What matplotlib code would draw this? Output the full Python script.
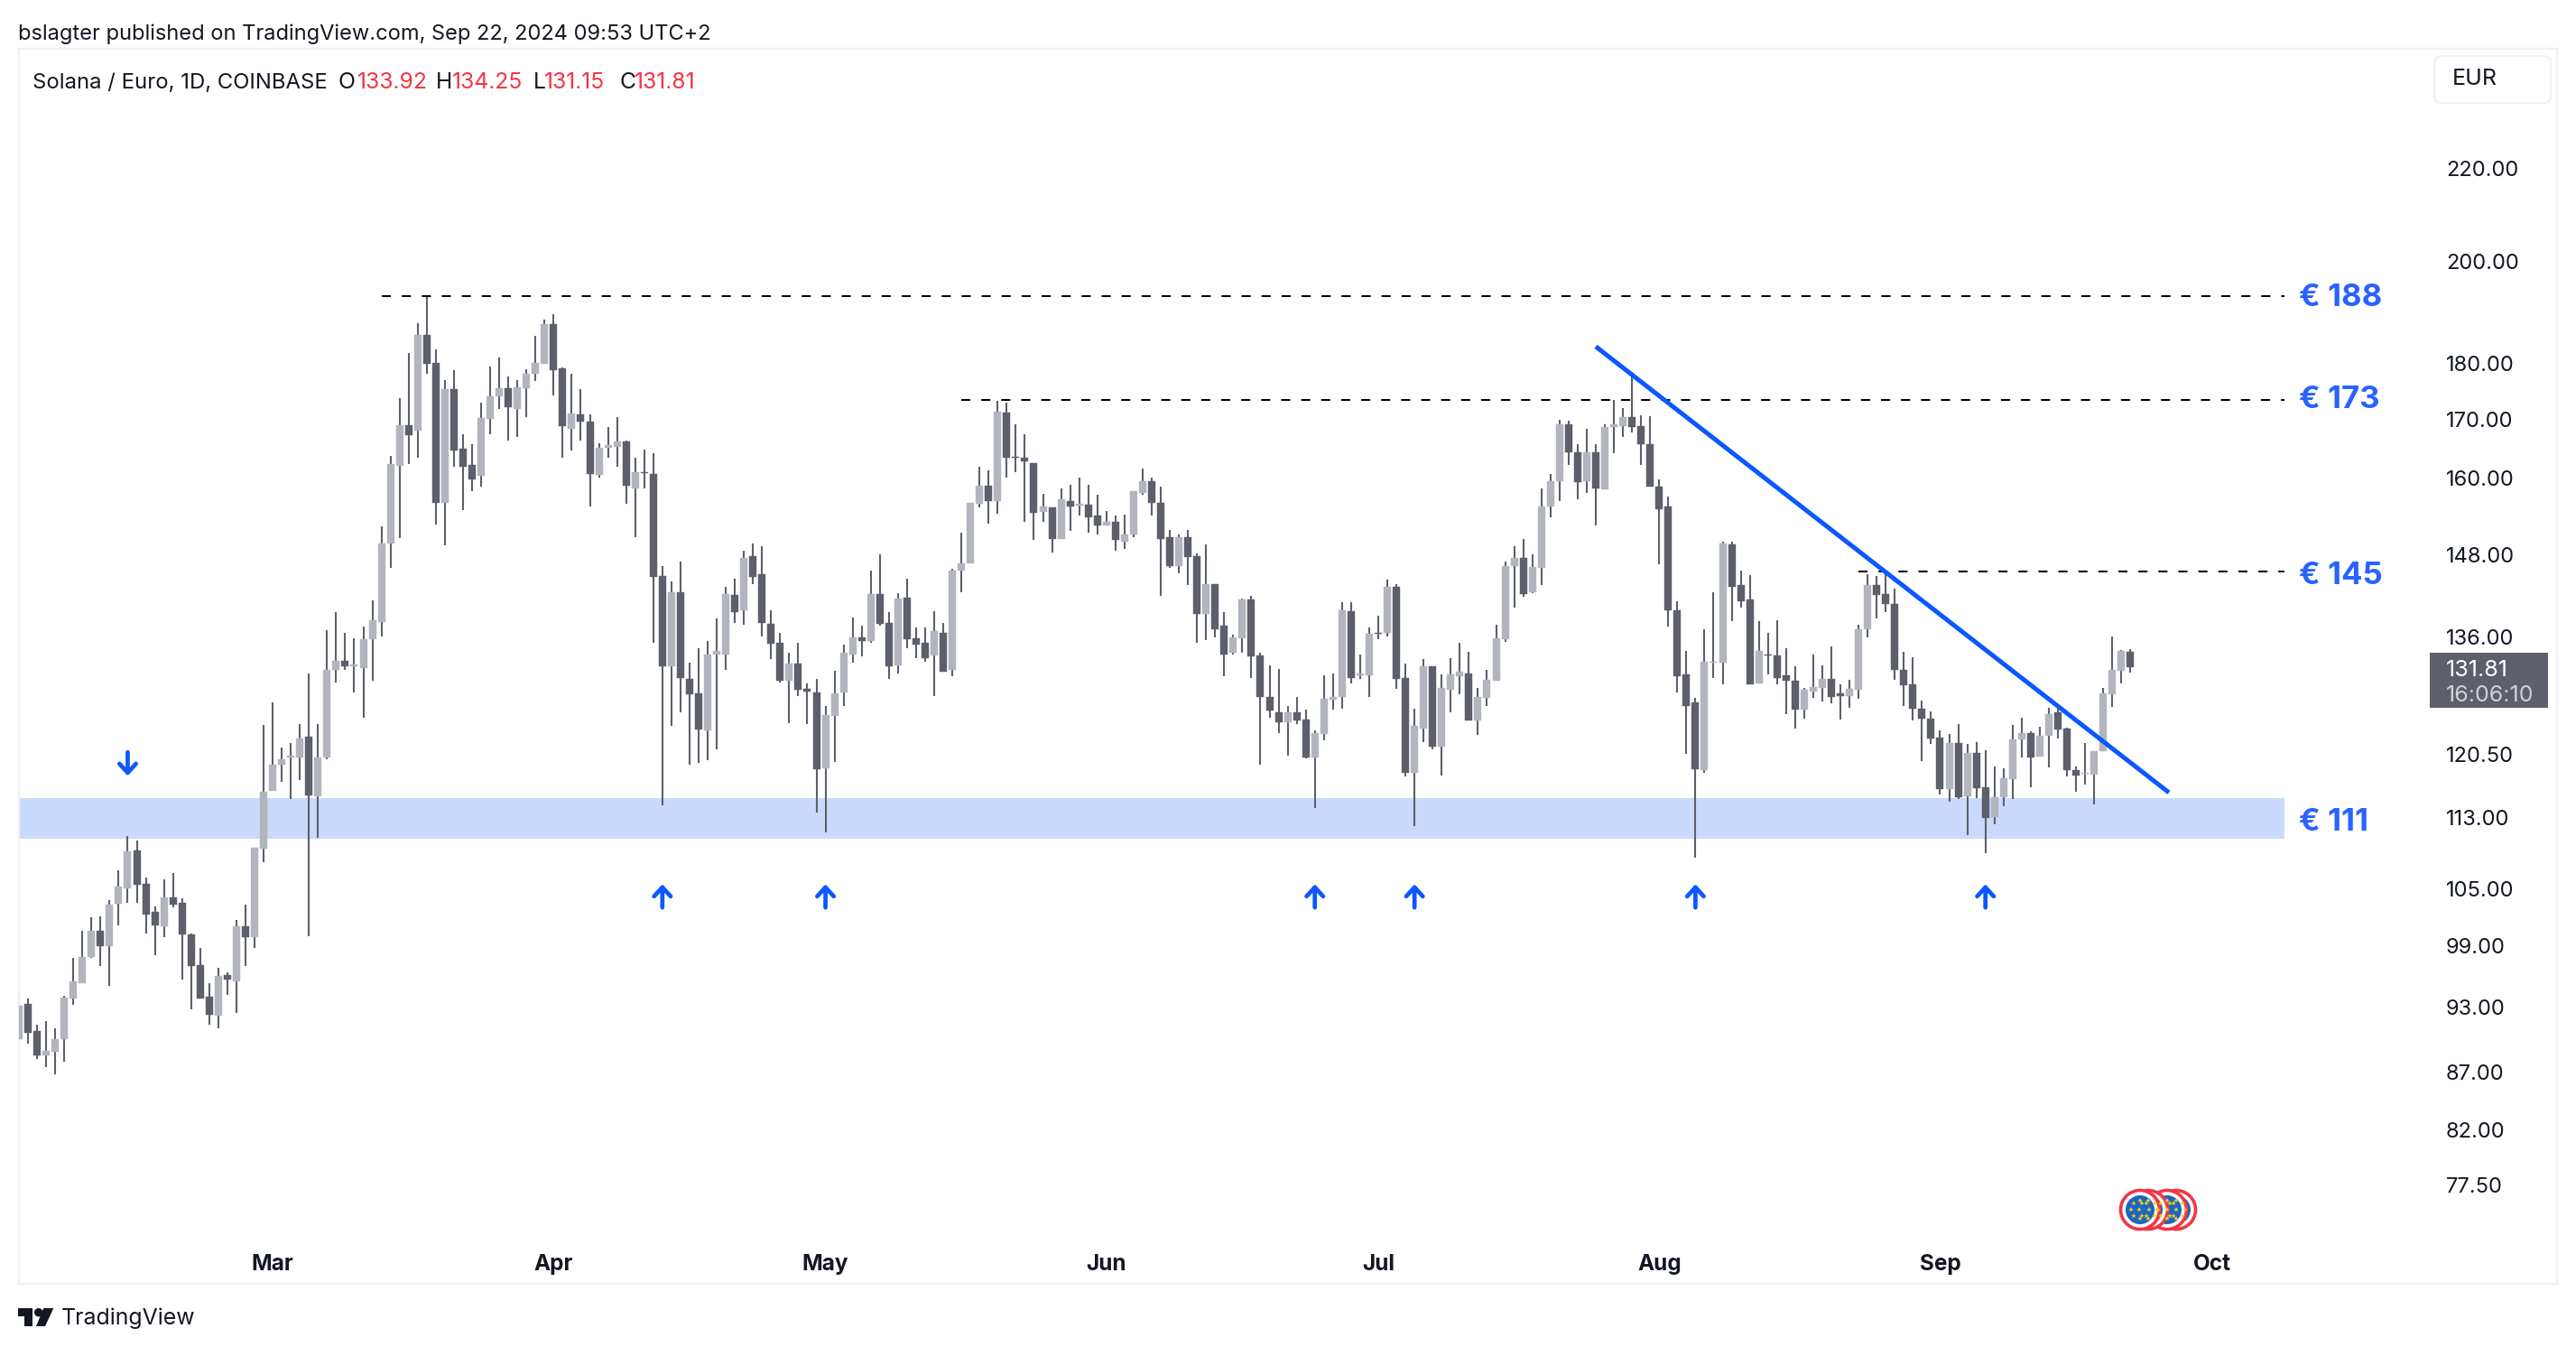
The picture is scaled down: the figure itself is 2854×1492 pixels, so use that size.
import pandas as pd
import numpy as np
import matplotlib
matplotlib.use("Agg")
import matplotlib.pyplot as plt
import matplotlib.dates as mdates
from matplotlib.lines import Line2D
from matplotlib.patches import Circle, FancyBboxPatch, Polygon, Rectangle
from matplotlib.transforms import IdentityTransform

plt.rcParams["font.family"] = ["Inter", "DejaVu Sans"]

W, H = 2854, 1492

days = pd.date_range("2024-02-02", periods=234)

opens = [
    90.0, 93.3, 90.7, 88.5, 88.8, 90.0, 93.8, 95.3, 97.9, 100.6,
    99.0, 103.4, 105.0, 109.2, 105.5, 102.5, 101.0, 104.1, 103.5, 100.2,
    97.1, 94.0, 92.2, 96.1, 95.5, 101.0, 99.9, 109.4, 116.1, 119.3,
    120.1, 120.1, 122.7, 115.5, 120.1, 131.5, 132.7, 132.0, 131.7, 135.7,
    138.1, 149.6, 162.1, 169.0, 168.0, 185.4, 180.1, 156.1, 175.4, 164.9,
    162.2, 160.5, 170.1, 174.1, 175.6, 171.9, 175.6, 178.1, 180.0, 187.5,
    179.2, 168.4, 170.8, 169.6, 160.6, 165.1, 165.2, 166.2, 158.4, 161.0,
    160.8, 144.7, 132.0, 142.3, 130.3, 128.3, 123.5, 133.5, 133.6, 141.9,
    139.7, 147.7, 145.0, 137.8, 135.1, 130.0, 132.3, 128.9, 128.5, 118.8,
    125.4, 128.4, 133.5, 135.9, 135.4, 142.1, 138.0, 132.1, 141.6, 135.8,
    135.1, 133.4, 136.6, 131.4, 145.5, 146.6, 155.9, 158.8, 156.4, 171.2,
    163.6, 163.4, 162.6, 154.6, 155.3, 150.4, 156.4, 155.6, 155.7, 154.0,
    152.4, 153.1, 150.0, 151.0, 157.7, 159.5, 156.1, 150.6, 146.3, 150.6,
    147.7, 139.2, 143.5, 137.5, 133.8, 135.8, 141.3, 133.4, 127.9, 125.9,
    124.6, 125.9, 124.9, 120.2, 123.1, 127.5, 127.9, 139.6, 130.7, 130.7,
    136.6, 136.5, 143.2, 130.4, 118.3, 123.8, 131.9, 121.5, 128.8, 130.6,
    131.0, 124.8, 127.7, 130.0, 135.7, 146.3, 147.4, 142.4, 145.9, 155.4,
    159.5, 169.2, 164.4, 159.5, 164.4, 158.2, 168.6, 168.9, 170.4, 168.8,
    165.7, 158.6, 155.4, 139.8, 130.8, 127.1, 118.6, 132.4, 132.4, 149.5,
    143.4, 141.3, 129.6, 133.6, 133.4, 130.7, 130.0, 126.2, 128.6, 129.1,
    130.2, 128.3, 128.0, 128.8, 137.0, 143.4, 142.1, 140.7, 131.4, 129.5,
    126.3, 125.0, 122.6, 116.3, 122.0, 115.5, 120.7, 116.5, 113.0, 115.4,
    117.5, 122.4, 123.2, 120.3, 122.8, 125.8, 123.8, 118.6, 118.2, 118.1,
    120.9, 128.2, 131.3, 133.92,
]
highs = [
    94.5, 93.8, 91.3, 91.7, 91.0, 94.1, 97.8, 100.6, 102.0, 102.1,
    103.8, 107.0, 110.8, 110.3, 106.2, 103.1, 106.0, 106.7, 104.0, 100.3,
    98.8, 95.3, 96.8, 96.4, 101.7, 103.3, 109.5, 124.2, 127.2, 121.4,
    121.9, 124.4, 131.0, 124.3, 136.9, 139.5, 136.6, 135.8, 137.4, 141.2,
    152.3, 163.7, 173.7, 182.0, 187.7, 193.1, 182.6, 177.0, 178.8, 167.5,
    165.7, 172.9, 179.4, 181.1, 177.6, 177.0, 179.0, 185.3, 188.4, 189.3,
    179.3, 178.2, 175.4, 170.8, 165.9, 168.6, 170.4, 166.3, 163.4, 164.8,
    164.2, 146.2, 143.9, 146.9, 132.4, 134.4, 135.4, 138.6, 143.2, 144.3,
    148.6, 149.6, 149.3, 139.7, 136.5, 133.8, 135.2, 129.7, 130.3, 126.7,
    131.3, 134.9, 138.7, 137.5, 145.6, 148.0, 139.5, 142.2, 144.4, 137.3,
    137.3, 139.6, 138.0, 145.8, 151.4, 156.0, 162.0, 161.4, 173.2, 173.0,
    169.1, 167.4, 162.6, 157.5, 155.3, 158.4, 159.0, 160.1, 159.0, 157.3,
    154.8, 154.0, 154.1, 157.9, 161.7, 160.1, 158.6, 151.8, 151.1, 151.8,
    148.2, 149.5, 143.5, 139.5, 136.3, 141.4, 141.8, 133.8, 132.1, 131.6,
    126.7, 127.8, 126.2, 123.5, 130.7, 131.0, 140.9, 140.9, 133.6, 137.3,
    139.0, 144.2, 143.5, 132.3, 126.3, 132.9, 131.9, 130.9, 133.0, 135.1,
    133.9, 129.0, 131.5, 137.7, 146.9, 149.3, 150.3, 148.0, 158.4, 160.8,
    169.9, 169.7, 165.8, 168.3, 165.7, 169.1, 173.4, 172.0, 178.5, 170.7,
    170.5, 159.8, 157.0, 141.1, 134.0, 127.7, 137.1, 142.4, 150.0, 149.9,
    145.5, 144.9, 138.2, 136.6, 138.3, 134.4, 132.0, 129.0, 133.5, 132.1,
    134.6, 129.5, 130.1, 137.7, 145.0, 144.7, 145.2, 142.9, 133.9, 133.2,
    127.4, 126.0, 123.5, 123.1, 124.4, 121.8, 122.1, 121.0, 119.0, 118.8,
    124.2, 125.2, 123.4, 124.0, 126.4, 126.3, 123.9, 119.0, 121.9, 120.9,
    129.1, 136.0, 134.2, 134.25,
]
lows = [
    89.7, 89.6, 88.2, 87.4, 86.8, 87.9, 93.2, 95.3, 97.8, 97.0,
    95.0, 101.1, 103.5, 103.5, 100.3, 98.1, 99.9, 103.0, 95.7, 92.8,
    93.8, 91.3, 91.0, 94.2, 92.4, 97.0, 98.8, 107.9, 116.1, 117.2,
    115.1, 117.4, 100.0, 110.6, 119.9, 129.8, 131.5, 128.5, 125.1, 130.0,
    136.0, 146.0, 150.5, 162.4, 163.5, 178.1, 152.6, 149.4, 162.0, 154.9,
    157.9, 158.6, 167.5, 171.9, 166.3, 166.9, 170.4, 176.8, 180.0, 174.2,
    163.5, 164.7, 166.3, 155.5, 160.2, 163.4, 162.0, 155.9, 150.7, 158.4,
    135.1, 114.4, 124.1, 125.9, 119.3, 119.5, 119.8, 121.2, 131.4, 137.9,
    137.7, 143.5, 136.0, 132.9, 129.8, 124.5, 128.0, 124.4, 113.5, 111.3,
    119.6, 126.7, 132.4, 133.3, 135.1, 137.6, 130.3, 131.0, 134.4, 133.1,
    132.5, 128.0, 131.2, 130.6, 142.4, 146.6, 155.3, 152.8, 154.3, 160.1,
    161.0, 153.0, 150.2, 153.1, 148.3, 150.4, 151.6, 154.0, 151.4, 151.0,
    152.4, 148.6, 148.9, 150.7, 157.3, 154.0, 141.8, 145.9, 145.1, 143.4,
    135.2, 135.5, 135.9, 130.6, 133.6, 133.8, 130.4, 119.3, 125.2, 123.2,
    120.4, 124.3, 120.0, 114.1, 122.3, 126.2, 126.3, 129.7, 130.3, 127.9,
    135.7, 136.0, 128.9, 117.8, 112.0, 122.1, 121.2, 118.0, 125.9, 128.2,
    124.8, 123.0, 126.7, 130.0, 135.3, 140.1, 141.7, 142.2, 143.4, 153.8,
    156.3, 162.3, 156.6, 157.6, 152.5, 158.2, 164.2, 166.9, 167.8, 162.2,
    158.6, 146.5, 137.4, 128.4, 120.6, 108.4, 118.3, 130.4, 129.5, 138.2,
    140.1, 129.5, 129.6, 130.8, 129.5, 125.6, 123.8, 125.0, 127.7, 127.3,
    127.0, 124.9, 126.4, 127.6, 135.9, 138.6, 139.5, 130.1, 126.7, 124.8,
    119.7, 121.8, 115.7, 114.8, 115.1, 111.0, 115.2, 108.9, 112.2, 114.3,
    115.1, 120.1, 116.5, 120.3, 118.9, 122.5, 117.8, 116.0, 116.9, 114.5,
    120.9, 126.6, 129.7, 131.15,
]
closes = [
    93.1, 90.6, 88.5, 88.9, 90.0, 93.9, 95.5, 97.9, 100.6, 99.0,
    103.3, 105.2, 109.1, 105.4, 102.3, 101.1, 104.1, 103.3, 100.2, 97.0,
    93.8, 92.3, 96.0, 95.7, 101.0, 99.9, 109.5, 116.0, 119.3, 119.9,
    120.4, 122.5, 115.6, 120.1, 131.4, 132.7, 132.0, 132.2, 135.7, 138.3,
    149.7, 162.4, 169.0, 167.3, 185.4, 179.9, 156.1, 175.4, 164.7, 162.0,
    159.8, 170.2, 174.1, 175.6, 172.1, 175.7, 178.1, 180.2, 187.5, 178.8,
    168.8, 171.1, 169.6, 160.8, 165.1, 165.5, 166.2, 158.8, 161.0, 160.9,
    144.6, 132.0, 142.4, 130.4, 128.2, 123.6, 133.6, 134.0, 142.1, 139.5,
    147.4, 144.6, 138.0, 135.0, 130.0, 132.3, 128.8, 128.6, 118.7, 125.5,
    128.3, 133.8, 135.9, 135.4, 142.1, 137.8, 132.0, 141.5, 135.7, 134.9,
    133.1, 136.8, 131.2, 145.6, 146.6, 156.0, 158.8, 156.4, 171.3, 163.4,
    163.4, 162.8, 154.4, 155.4, 150.4, 156.6, 155.4, 155.9, 153.8, 152.4,
    153.1, 150.2, 151.1, 157.9, 159.5, 156.1, 150.4, 146.3, 150.6, 147.6,
    139.2, 143.6, 137.1, 133.6, 135.9, 141.3, 133.3, 127.8, 126.1, 124.6,
    125.9, 124.8, 120.2, 123.2, 127.6, 127.9, 139.7, 130.4, 131.0, 136.4,
    136.4, 143.1, 130.3, 118.3, 124.1, 131.9, 121.5, 129.0, 130.8, 131.2,
    124.8, 127.9, 130.1, 135.8, 146.3, 147.4, 142.1, 146.1, 155.4, 159.5,
    169.2, 164.3, 159.4, 164.3, 158.3, 168.6, 169.1, 170.4, 168.6, 165.7,
    158.6, 155.0, 139.8, 130.6, 126.7, 118.7, 132.5, 132.6, 149.6, 143.2,
    141.1, 129.5, 134.0, 133.4, 130.4, 130.0, 126.2, 128.8, 129.2, 130.2,
    127.8, 128.0, 128.9, 137.1, 143.4, 141.9, 140.6, 131.5, 129.4, 126.3,
    125.0, 122.5, 116.3, 121.9, 115.4, 120.7, 116.4, 112.9, 115.4, 117.6,
    122.4, 123.2, 120.2, 122.8, 125.6, 123.7, 118.6, 118.0, 118.3, 120.9,
    128.3, 131.4, 134.0, 131.81,
]

price_ticks = [220, 200, 180, 170, 160, 148, 136, 120.5, 113, 105, 99, 93, 87, 82, 77.5]
month_ticks = ["2024-03-01", "2024-04-01", "2024-05-01", "2024-06-01",
               "2024-07-01", "2024-08-01", "2024-09-01", "2024-10-01"]
month_labels = ["Mar", "Apr", "May", "Jun", "Jul", "Aug", "Sep", "Oct"]

support_low, support_high = 110.5, 115.2
level_prices = [193.0, 173.4, 145.4]
level_starts = ["2024-03-13", "2024-05-16", "2024-08-23"]
level_texts = ["€ 188", "€ 173", "€ 145", "€ 111"]
level_text_prices = [192.6, 173.4, 144.7, 112.4]
drawings_end = "2024-10-09"
trend_dates = ["2024-07-25", "2024-09-26 06:00"]
trend_prices = [183.2, 115.9]
up_arrow_dates = ["2024-04-13", "2024-05-01", "2024-06-24", "2024-07-05", "2024-08-05", "2024-09-06"]
down_arrow_date = "2024-02-14"

UP = "#b2b5be"
DOWN = "#5d606b"
BLUE = "#0c57ff"
LABEL_BLUE = "#2962ff"
FRAME = "#f0f0f5"
INK = "#131722"
RED = "#f23645"

fig = plt.figure(figsize=(W / 100, H / 100), dpi=100, facecolor="white")
ax = fig.add_axes([21 / W, (H - 1422) / H, 2812 / W, 1368 / H])
ax.set_yscale("log")
ax.set_ylim(70.0, 248.7)
first = mdates.date2num(days[0])
ax.set_xlim(first, first + 280.08)

o = np.array(opens)
c = np.array(closes)
colors = np.where(c >= o, UP, DOWN)
x = mdates.date2num(days)

ax.axhspan(support_low, support_high, xmin=0,
           xmax=(mdates.datestr2num(drawings_end) - first) / 280.08,
           color="#cadafd", lw=0, zorder=1)

# wicks then bodies
ax.vlines(x, lows, highs, colors=DOWN, lw=1.5, zorder=2)
ax.bar(x, np.abs(c - o), bottom=np.minimum(o, c), width=0.8, color=colors,
       edgecolor=colors, lw=0.3, zorder=3)

for price, start in zip(level_prices, level_starts):
    ax.plot([mdates.datestr2num(start), mdates.datestr2num(drawings_end)], [price, price],
            color="black", lw=1.45, dashes=(5, 6), zorder=4)

ax.plot(mdates.datestr2num(trend_dates), trend_prices, color=BLUE, lw=3.6,
        solid_capstyle="butt", zorder=5)

label_x = first + 251.6
for txt, price in zip(level_texts, level_text_prices):
    ax.text(label_x, price, txt, color=LABEL_BLUE, fontsize=25, fontweight="bold",
            va="center", ha="left", zorder=6)

arrow_style = dict(arrowstyle="->,head_length=0.72,head_width=0.66", color=BLUE, lw=3.4,
                   shrinkA=0, shrinkB=0)
for d in up_arrow_dates:
    dn = mdates.datestr2num(d)
    ax.annotate("", xy=(dn, 105.5), xytext=(dn, 103.0), arrowprops=arrow_style, zorder=6)
dn = mdates.datestr2num(down_arrow_date)
ax.annotate("", xy=(dn, 117.9), xytext=(dn, 120.8), arrowprops=arrow_style, zorder=6)

# last price tag
ax.add_patch(Rectangle((first + 266.0, 126.4), 13.1, 133.8 - 126.4, color=DOWN, lw=0, zorder=7))
ax.text(first + 267.8, 131.4, "131.81", color="white", fontsize=18, va="center", ha="left", zorder=8)
ax.text(first + 267.8, 128.05, "16:06:10", color="#d0d1d6", fontsize=18, va="center", ha="left", zorder=8)

ax.yaxis.tick_right()
ax.set_yticks(price_ticks)
ax.set_yticklabels([f"{p:.2f}" for p in price_ticks], color=INK, fontsize=17)
ax.minorticks_off()
ax.tick_params(axis="y", which="both", length=0, pad=-88.5)
ax.set_xticks(mdates.datestr2num(month_ticks))
ax.set_xticklabels(month_labels, color=INK, fontsize=17.5, fontweight="bold")
ax.tick_params(axis="x", length=0, pad=-24)
for s in ax.spines.values():
    s.set_color(FRAME)
    s.set_linewidth(1.6)


def px_text(px, py, s, **kw):
    fig.text(px / W, 1 - py / H, s, va="center", ha="left", **kw)


px_text(20, 38, "bslagter published on TradingView.com, Sep 22, 2024 09:53 UTC+2", color=INK, fontsize=17)
px_text(36, 92, "Solana / Euro, 1D, COINBASE", color=INK, fontsize=17.2)
for px, s, col in [(375, "O", INK), (396, "133.92", RED), (483, "H", INK), (501, "134.25", RED),
                   (591, "L", INK), (603, "131.15", RED), (687, "C", INK), (703, "131.81", RED)]:
    px_text(px, 92, s, color=col, fontsize=17.8)

# currency box
fig.add_artist(FancyBboxPatch((2697, H - 114), 129, 52, boxstyle="round,pad=0,rounding_size=8",
                              fc="white", ec=FRAME, lw=1.5, transform=IdentityTransform()))
px_text(2717, 88, "EUR", color=INK, fontsize=18)

# logo
px_text(68, 1460, "TradingView", color=INK, fontsize=17.9)
logo_t = [(20, 1449), (36, 1449), (36, 1469), (27, 1469), (27, 1458), (20, 1458)]
logo_slash = [(48.3, 1449), (59.3, 1449), (50, 1469), (40, 1469)]
for shape in (logo_t, logo_slash):
    fig.add_artist(Polygon([(a, H - b) for a, b in shape], closed=True, fc=INK, ec="none",
                           transform=IdentityTransform()))
fig.add_artist(Circle((42.7, H - 1453.7), 4.7, fc=INK, ec="none", transform=IdentityTransform()))

# economic event badges, back to front
for cx in [2411, 2401, 2380, 2371]:
    fig.add_artist(Circle((cx, H - 1340), 21.5, fc="white", ec=RED, lw=2.6, transform=IdentityTransform()))
    fig.add_artist(Circle((cx, H - 1340), 16, fc="#1a66c2", ec="none", transform=IdentityTransform()))
    for a in np.linspace(0, 2 * np.pi, 8, endpoint=False):
        fig.add_artist(Line2D([cx + 10 * np.sin(a)], [H - 1340 + 10 * np.cos(a)], marker="*", ms=4,
                              color="#f7d117", lw=0, mew=0, transform=IdentityTransform()))

fig.savefig("out.png", dpi=100)
